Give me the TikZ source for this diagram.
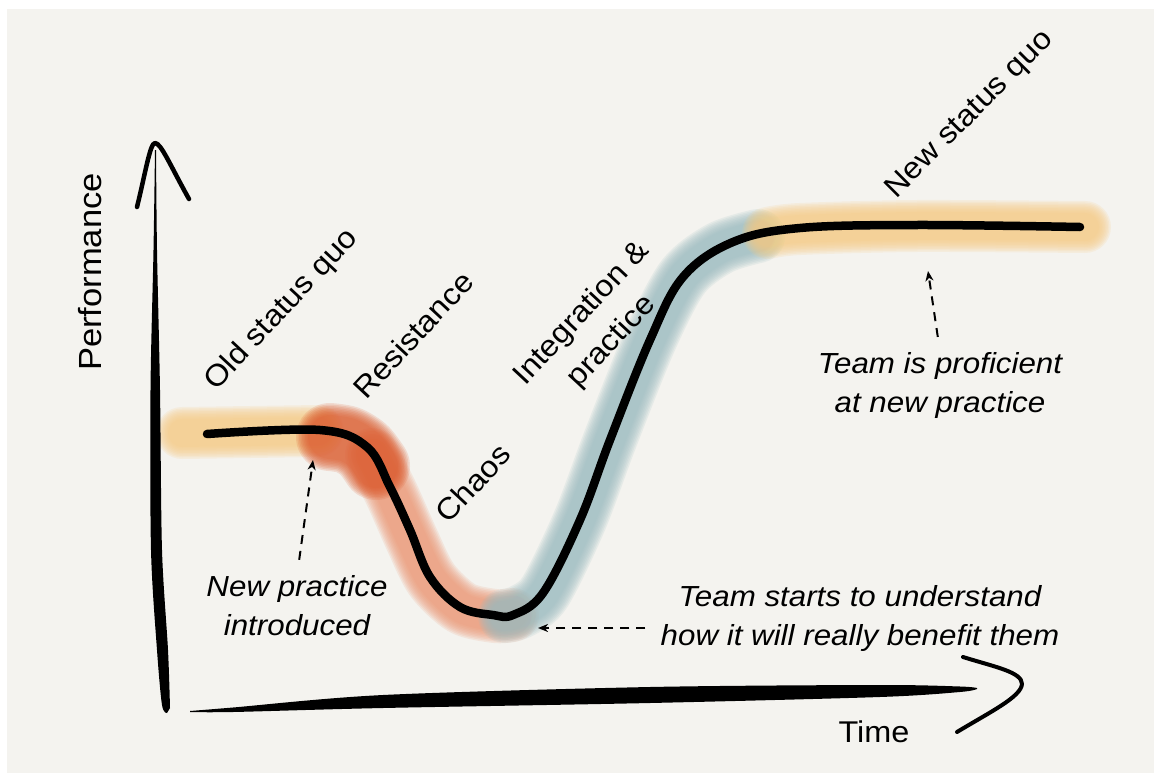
\documentclass[tikz,border=0pt]{standalone}
\usepackage{fontspec}
\setmainfont{Liberation Sans}[FakeStretch=1.08]
\usetikzlibrary{arrows.meta}

\definecolor{paper}{RGB}{244,243,239}
\definecolor{hlyellow}{RGB}{245,204,132}
\definecolor{hlorange}{RGB}{220,90,45}
\definecolor{hlsalmon}{RGB}{236,150,115}
\definecolor{hlblue}{RGB}{155,188,193}

% soft marker stroke: many thin translucent passes, widest first
% #1 colour, #2 widest pass (pt), #3 path
\newcommand\glowpath[3]{%
  \foreach \k in {0,...,8}{%
    \draw[#1, line width=#2pt-3*\k pt, opacity=.16, line cap=round, line join=round] #3;}}

\begin{document}
\begin{tikzpicture}[x=1pt, y=-1pt,
  lab/.style={inner sep=0pt, font=\fontsize{30}{41}\selectfont},
  note/.style={inner sep=0pt, align=center, font=\itshape\fontsize{29}{39}\selectfont},
  dasharr/.style={line width=2pt, dash pattern=on 9pt off 7pt,
    -{Stealth[length=10pt, width=8pt, inset=3pt]}},
  curve/.style={line width=8.5pt, line cap=round, line join=round},
  pen/.style={line cap=round, line join=round}]

% paper
\useasboundingbox (0,0) rectangle (1161,781);
\fill[white] (0,0) rectangle (1161,781);
\fill[paper] (7,9) rectangle (1154,773);

% marker highlights under the curve
\glowpath{hlyellow}{52}{plot[smooth] coordinates {(182,433) (250,432) (318,431)}}
\glowpath{hlsalmon}{54}{plot[smooth] coordinates {(372,455) (392,495) (412,540) (432,580) (462,608) (495,616) (512,615)}}
\glowpath{hlorange}{68}{plot[smooth] coordinates {(330,437) (348,440) (364,450) (376,466)}}
\glowpath{hlblue}{54}{plot[smooth] coordinates {(505,616) (522,611) (545,592) (580,520) (610,440) (650,340) (683,277) (720,248) (758,236)}}
\glowpath{hlyellow}{52}{plot[smooth] coordinates {(768,233) (800,229) (917,226) (1085,227)}}

% performance curve
\draw[curve] plot[smooth, tension=.6] coordinates {
  (207,434) (320,430) (367,447) (390,487) (410,530) (430,577) (460,607)
  (493,615) (513,615) (543,593) (580,520) (610,440) (650,340) (683,277)
  (733,242) (800,228) (917,225) (1080,227)};

% vertical axis: tapered shaft and hand-drawn head
\fill plot[smooth] coordinates {(155,150) (153.5,250) (150.5,390) (151,550) (157,650) (162,705) (167,713)}
  -- plot[smooth] coordinates {(170,708) (168,650) (162,550) (160,390) (157,250) (156,150)} -- cycle;
\draw[pen, line width=4.5pt] (137,207) .. controls (145,175) and (150,143) .. (155,143)
  .. controls (161,143) and (170,165) .. (189,199);

% horizontal axis: tapered shaft and hand-drawn head
\fill plot[smooth] coordinates {(190,711) (233,707.5) (383,695) (650,687) (880,685) (960,686.5) (977,688)}
  -- plot[smooth] coordinates {(977,689) (960,692) (880,697) (650,703) (383,708) (233,712) (190,712)} -- cycle;
\draw[pen, line width=4pt] (963,657) .. controls (995,667) and (1022,672) .. (1022,684)
  .. controls (1021,697) and (990,712) .. (957,732);

% labels
\node[lab, rotate=90, font=\fontsize{32}{40}\selectfont] (perf) at (90,272) {Performance};
\node[lab] (time) at (874,732) {Time};
\node[lab, rotate=47] (old) at (282,310) {Old status quo};
\node[lab, rotate=47] (res) at (413,335) {Resistance};
\node[lab, rotate=47] (chaos) at (473,483) {Chaos};
\node[lab, rotate=47, align=center] (integ) at (597,328) {Integration \&\\practice};
\node[lab, rotate=45] (newsq) at (970,115) {New status quo};

% annotations
\node[note] (np) at (297,606) {New practice\\introduced};
\node[note] (ts) at (860,618) {Team starts to understand\\how it will really benefit them};
\node[note] (tp) at (940,385) {Team is proficient\\at new practice};

\coordinate (tipA) at (313,460);
\coordinate (tipB) at (538,628);
\coordinate (tipC) at (928,271);
\draw[dasharr, shorten <=16pt] (np.north) -- (tipA);
\draw[dasharr, shorten <=15pt] (ts.west |- tipB) -- (tipB);
\draw[dasharr, shorten <=15pt] (tp.north) -- (tipC);
\end{tikzpicture}
\end{document}
